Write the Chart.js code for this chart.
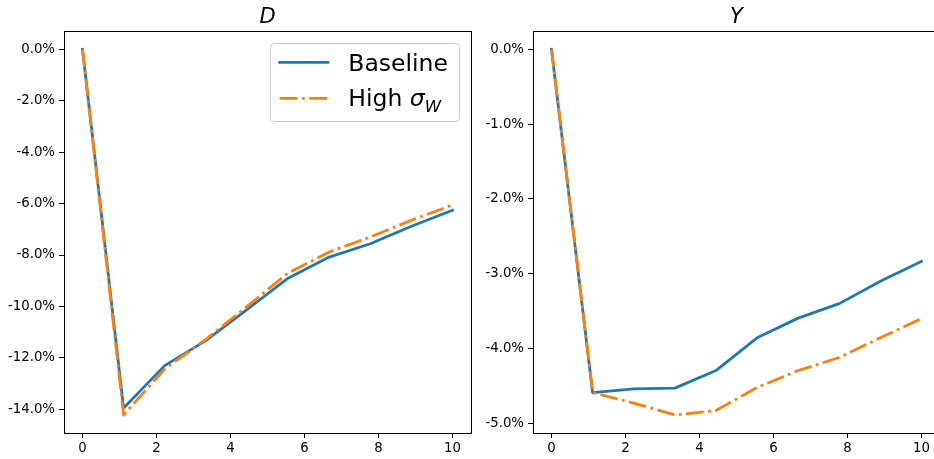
<!DOCTYPE html>
<html><head><meta charset="utf-8">
<script src="https://cdn.jsdelivr.net/npm/chart.js@4"></script>
<style>
html,body{margin:0;padding:0;background:#fff;overflow:hidden}
#wrap{position:relative;width:934px;height:459px;overflow:hidden;background:#fff}
canvas{position:absolute;top:0}
</style></head><body>
<div id="wrap">
<canvas id="c1" width="480" height="459" style="left:0px"></canvas>
<canvas id="c2" width="470" height="459" style="left:480px"></canvas>
</div>
<script>
// ---- data ----
const periods = [0, 1.111, 2.222, 3.333, 4.444, 5.556, 6.667, 7.778, 8.889, 10];
const xTicks = [0, 2, 4, 6, 8, 10];
const panelTitles = ['D', 'Y'];
const seriesNames = ['Baseline', 'High σ_W'];
const dBaseline = [0, -13.95, -12.30, -11.33, -10.12, -8.90, -8.08, -7.56, -6.88, -6.26];
const dHigh     = [0, -14.22, -12.43, -11.28, -10.00, -8.70, -7.88, -7.30, -6.65, -6.05];
const yBaseline = [0, -4.59, -4.54, -4.53, -4.295, -3.857, -3.594, -3.40, -3.10, -2.835];
const yHigh     = [0, -4.59, -4.73, -4.89, -4.83, -4.52, -4.295, -4.12, -3.857, -3.60];
const dTicks = [0, -2, -4, -6, -8, -10, -12, -14];
const yTicks = [0, -1, -2, -3, -4, -5];

const BLUE = '#1f77b4', ORANGE = '#ff7f0e';
const LW = 2.78;
const DASH = [17.8, 4.45, 2.78, 4.45];
const FONT = '"DejaVu Sans", "Liberation Sans", sans-serif';

function fmtPct(v){ return (Math.abs(v) < 1e-9 ? 0 : v).toFixed(1) + '%'; }

const framePlugin = {
  id: 'frame',
  afterDatasetsDraw(chart){
    const a = chart.chartArea, c = chart.ctx;
    c.save();
    c.strokeStyle = '#000'; c.lineWidth = 1;
    c.strokeRect(Math.round(a.left) + 0.5, Math.round(a.top) + 0.5, Math.round(a.right - a.left), Math.round(a.bottom - a.top));
    c.restore();
  }
};

const titlePlugin = {
  id: 'ptitle',
  afterDraw(chart, args, opts){
    const a = chart.chartArea, c = chart.ctx;
    c.save();
    c.fillStyle = '#000';
    c.font = 'italic 21px ' + FONT;
    c.textAlign = 'center'; c.textBaseline = 'alphabetic';
    c.fillText(opts.text, (a.left + a.right) / 2, a.top - 8.3);
    c.restore();
  }
};

const legendPlugin = {
  id: 'plegend',
  afterDraw(chart, args, opts){
    if (!opts.show) return;
    const a = chart.chartArea, c = chart.ctx;
    const bw = 189, bh = 78;
    const bx = a.right - 12 - bw, by = a.top + 12;
    c.save();
    c.beginPath();
    if (c.roundRect) c.roundRect(bx + 0.5, by + 0.5, bw, bh, 4); else c.rect(bx + 0.5, by + 0.5, bw, bh);
    c.fillStyle = 'rgba(255,255,255,0.8)'; c.fill();
    c.strokeStyle = '#cccccc'; c.lineWidth = 1; c.stroke();
    const ds = chart.data.datasets;
    const rows = [{y: by + 19.3, tb: by + 28.3}, {y: by + 55.3, tb: by + 63.3}];
    ds.forEach((d, i) => {
      const r = rows[i];
      c.beginPath();
      c.strokeStyle = d.borderColor; c.lineWidth = LW;
      if (d.borderDash) { c.setLineDash(d.borderDash); c.lineCap = 'butt'; } else { c.setLineDash([]); c.lineCap = 'square'; }
      c.moveTo(bx + 9.7, r.y); c.lineTo(bx + 57.9, r.y); c.stroke();
      c.setLineDash([]);
      c.fillStyle = '#000'; c.textAlign = 'left'; c.textBaseline = 'alphabetic';
      let x = bx + 78.3;
      const label = d.label;
      const m = label.match(/^(.*?)(\S)_(\S+)$/);
      if (m) {
        c.font = '23.5px ' + FONT;
        c.fillText(m[1], x, r.tb); x += c.measureText(m[1]).width;
        c.font = 'italic 23.5px ' + FONT;
        c.fillText(m[2], x, r.tb); x += c.measureText(m[2]).width;
        c.font = 'italic 16.5px ' + FONT;
        c.fillText(m[3], x, r.tb + 5.5);
      } else {
        c.font = '23.5px ' + FONT;
        c.fillText(label, x, r.tb);
      }
    });
    c.restore();
  }
};

function makeChart(id, base, high, yMin, yMax, yTickVals, yAxisW, padRight, title, showLegend){
  const tickFont = {family: FONT, size: 13.3};
  return new Chart(document.getElementById(id), {
    type: 'line',
    data: {
      datasets: [
        {label: seriesNames[0], data: periods.map((x, i) => ({x: x, y: base[i]})),
         borderColor: BLUE, backgroundColor: BLUE, borderWidth: LW, pointRadius: 0, fill: false,
         tension: 0, borderJoinStyle: 'round', borderCapStyle: 'square', order: 1},
        {label: seriesNames[1], data: periods.map((x, i) => ({x: x, y: high[i]})),
         borderColor: ORANGE, backgroundColor: ORANGE, borderWidth: LW, pointRadius: 0, fill: false,
         tension: 0, borderDash: DASH, borderJoinStyle: 'round', borderCapStyle: 'butt', order: 0}
      ]
    },
    options: {
      responsive: false, animation: false, events: [],
      layout: {padding: {top: 31, right: padRight, left: 0, bottom: 0}},
      plugins: {
        legend: {display: false}, tooltip: {enabled: false}, title: {display: false},
        ptitle: {text: title}, plegend: {show: showLegend}
      },
      scales: {
        x: {
          type: 'linear', min: -0.5, max: 10.5,
          afterBuildTicks: s => { s.ticks = xTicks.map(v => ({value: v})); },
          afterFit: s => { s.height = 26; },
          grid: {drawOnChartArea: false, drawTicks: true, tickLength: 5, color: '#000', lineWidth: 1},
          border: {display: false},
          ticks: {font: tickFont, color: '#000', padding: 3, maxRotation: 0, autoSkip: false, callback: v => String(v)}
        },
        y: {
          type: 'linear', min: yMin, max: yMax,
          afterBuildTicks: s => { s.ticks = yTickVals.map(v => ({value: v})); },
          afterFit: s => { s.width = yAxisW; },
          grid: {drawOnChartArea: false, drawTicks: true, tickLength: 5, color: '#000', lineWidth: 1},
          border: {display: false},
          ticks: {font: tickFont, color: '#000', padding: 4, autoSkip: false, callback: v => fmtPct(v)}
        }
      }
    },
    plugins: [framePlugin, titlePlugin, legendPlugin]
  });
}

makeChart('c1', dBaseline, dHigh, -14.92, 0.71, dTicks, 64, 9, panelTitles[0], true);
makeChart('c2', yBaseline, yHigh, -5.13, 0.245, yTicks, 53, 10, panelTitles[1], false);
</script>
</body></html>
